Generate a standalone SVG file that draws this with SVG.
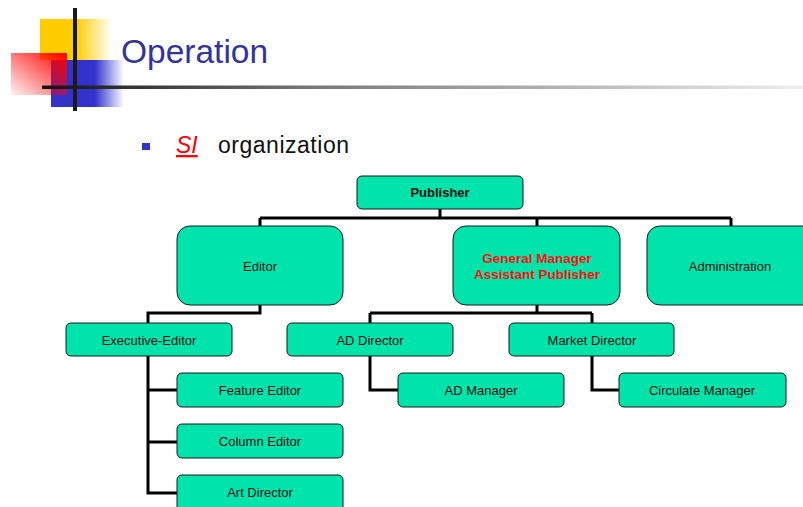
<svg xmlns="http://www.w3.org/2000/svg" width="803" height="507" viewBox="0 0 803 507">
<style>
.box{fill:#00E3AA;stroke:#1a1a1a;stroke-width:1}
.t{font-family:"Liberation Sans",Arial,sans-serif;font-size:13px;fill:#111;text-anchor:middle}
.b{font-weight:bold}
.conn{fill:none;stroke:#000;stroke-width:3}
</style>
<defs>
<linearGradient id="gy" x1="0" x2="1" y1="0" y2="0"><stop offset="0" stop-color="#FFCC00"/><stop offset="0.5" stop-color="#FFCC00"/><stop offset="1" stop-color="#FFCC00" stop-opacity="0"/></linearGradient>
<linearGradient id="gb" x1="0" x2="1" y1="0" y2="0"><stop offset="0" stop-color="#3333CC"/><stop offset="0.6" stop-color="#3333CC"/><stop offset="1" stop-color="#3333CC" stop-opacity="0"/></linearGradient>
<linearGradient id="gr" x1="1" y1="0" x2="0" y2="1"><stop offset="0" stop-color="#FF0000"/><stop offset="1" stop-color="#FF0000" stop-opacity="0.05"/></linearGradient>
<linearGradient id="gl" gradientUnits="userSpaceOnUse" x1="42" y1="0" x2="803" y2="0"><stop offset="0" stop-color="#111"/><stop offset="0.35" stop-color="#777"/><stop offset="1" stop-color="#eee"/></linearGradient>
</defs>
<g id="logo">
<rect x="40" y="19" width="72" height="41" fill="url(#gy)"/>
<rect x="51" y="60" width="73" height="47" fill="url(#gb)"/>
<rect x="11" y="53" width="56" height="42" fill="url(#gr)"/>
<rect x="42" y="85.5" width="761" height="3.5" fill="url(#gl)"/>
<rect x="73" y="8" width="4" height="103" fill="#1a1a1a"/>
</g>
<text x="121" y="63" font-family="'Liberation Sans',Arial,sans-serif" font-size="33.5" fill="#333399">Operation</text>
<rect x="142" y="143" width="8" height="7" fill="#3333CC"/>
<text x="176" y="153" font-family="'Liberation Sans',Arial,sans-serif" font-size="23" fill="#FF0000" font-style="italic" text-decoration="underline">SI</text>
<text x="218" y="153" font-family="'Liberation Sans',Arial,sans-serif" font-size="23" fill="#111" textLength="131">organization</text>
<g id="connectors" class="conn">
<path d="M440 209V218M260 218H731M260 218V226M537 218V226M731 218V226"/>
<path d="M260 305V313H148V323"/>
<path d="M148 356V493H177M148 390H177M148 442H177"/>
<path d="M537 305V313M370 313H592M370 313V323M592 313V323"/>
<path d="M370 356V390H398"/>
<path d="M592 356V390H619"/>
</g>
<g id="publisher"><rect class="box" x="357" y="176" width="166" height="33" rx="5"/><text class="t b" x="440" y="197">Publisher</text></g>
<g id="editor"><rect class="box" x="177" y="226" width="166" height="79" rx="13"/><text class="t" x="260" y="271">Editor</text></g>
<g id="gm"><rect class="box" x="453" y="226" width="167" height="79" rx="13"/><text class="t b" x="537" y="263" style="fill:#FF1010;font-size:13.5px">General Manager</text><text class="t b" x="537" y="279" style="fill:#FF1010;font-size:13.5px">Assistant Publisher</text></g>
<g id="administration"><rect class="box" x="647" y="226" width="170" height="79" rx="13"/><text class="t" x="730" y="271">Administration</text></g>
<g id="exec"><rect class="box" x="66" y="323" width="166" height="33" rx="5"/><text class="t" x="149" y="345">Executive-Editor</text></g>
<g id="addirector"><rect class="box" x="287" y="323" width="166" height="33" rx="5"/><text class="t" x="370" y="345">AD Director</text></g>
<g id="marketdirector"><rect class="box" x="509" y="323" width="165" height="33" rx="5"/><text class="t" x="592" y="345">Market Director</text></g>
<g id="feature"><rect class="box" x="177" y="373" width="166" height="34" rx="5"/><text class="t" x="260" y="395">Feature Editor</text></g>
<g id="admanager"><rect class="box" x="398" y="373" width="166" height="34" rx="5"/><text class="t" x="481" y="395">AD Manager</text></g>
<g id="circulate"><rect class="box" x="619" y="373" width="167" height="34" rx="5"/><text class="t" x="702" y="395">Circulate Manager</text></g>
<g id="column"><rect class="box" x="177" y="424" width="166" height="34" rx="5"/><text class="t" x="260" y="446">Column Editor</text></g>
<g id="art"><rect class="box" x="177" y="475" width="166" height="40" rx="5"/><text class="t" x="260" y="497">Art Director</text></g>
</svg>
